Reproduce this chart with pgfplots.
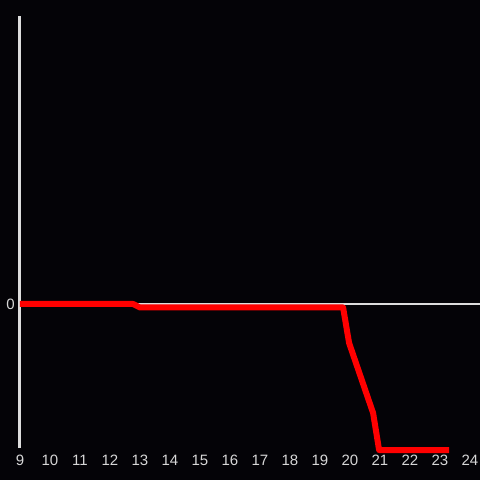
\documentclass[border=0pt]{standalone}
\usepackage{pgfplots}
\pgfplotsset{compat=1.18}
\usepackage{fontspec}
\setmainfont{Liberation Sans}
\definecolor{bg}{RGB}{4,3,7}
\definecolor{axgray}{RGB}{221,221,221}
\definecolor{lblgray}{RGB}{215,215,215}
\begin{document}
\begin{tikzpicture}
\fill[bg] (-20pt,-32pt) rectangle (460pt,448pt);
\begin{axis}[
  at={(0,0)}, anchor=south west,
  scale only axis, width=460pt, height=432pt,
  xmin=9, xmax=24.3333, ymin=-144, ymax=288,
  axis lines=left,
  x axis line style={draw=none},
  y axis line style={draw=axgray, line width=3pt, -},
  xtick={9,...,24}, ytick={0},
  major tick length=0pt,
  tick style={draw=none},
  /pgf/number format/assume math mode=true,
  ticklabel style={font=\fontsize{15}{17}\selectfont, text=lblgray, inner sep=0pt},
  xticklabel style={anchor=north, yshift=-6.5pt},
  yticklabel style={anchor=east, xshift=-5pt},
  clip=false,
]
\draw[axgray, line width=2pt] (axis cs:9,0) -- (axis cs:24.3333,0);
\addplot[red, line width=6pt, line join=round, line cap=square] coordinates {
 (9,0) (12.77,0) (13.0,-3.5) (19.77,-3.5) (19.97,-39) (20.77,-109) (20.97,-146) (23.3,-146)
};
\end{axis}
\pgfresetboundingbox
\path (-20pt,-32pt) rectangle (460pt,448pt);
\end{tikzpicture}
\end{document}
